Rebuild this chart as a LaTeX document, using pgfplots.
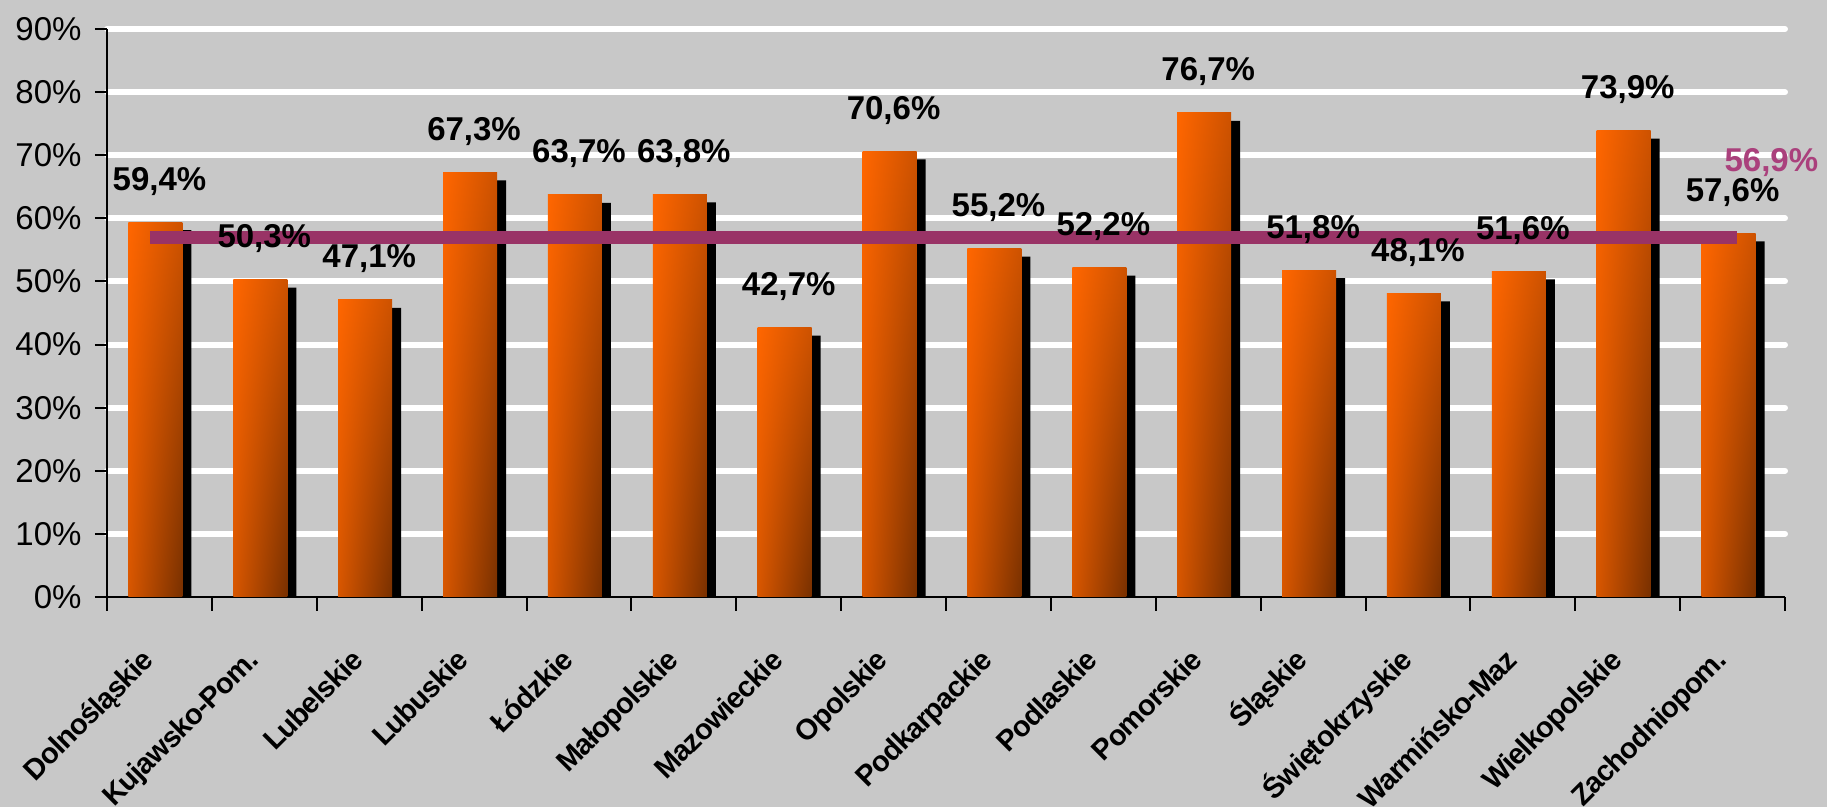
\documentclass[border=0pt]{standalone}
\usepackage{pgfplots}
\usepackage{pgfplotstable}
\pgfplotsset{compat=1.18}
\usepackage{fontspec}
\setmainfont{Liberation Sans}
\newfontfamily\labfont[LetterSpace=-3]{Liberation Sans}
\definecolor{bg}{RGB}{200,200,200}
\definecolor{plum}{RGB}{153,51,102}
\definecolor{plumtxt}{RGB}{170,64,124}
\pgfdeclarefunctionalshading{orbar}{\pgfpoint{-50bp}{-50bp}}{\pgfpoint{50bp}{50bp}}{}{
  25 add 50 div dup 0 lt {pop 0} if dup 1 gt {pop 1} if
  exch
  25 add 50 div dup 0 lt {pop 0} if dup 1 gt {pop 1} if
  2 copy mul 0.176 mul
  exch -0.372 mul add
  exch 0.157 mul add
  0.843 add
  dup 0.4 mul 0
}
\pgfplotstableread{
x y
0 59.4
1 50.3
2 47.1
3 67.3
4 63.7
5 63.8
6 42.7
7 70.6
8 55.2
9 52.2
10 76.7
11 51.8
12 48.1
13 51.6
14 73.9
15 57.6
}\data
\newcommand{\fs}{\fontsize{16.5}{19}\selectfont}
\begin{document}
\begin{tikzpicture}[font=\fs]
\fill[bg] (-53.5pt,-105pt) rectangle (860pt,298.5pt);
\begin{axis}[
  scale only axis, width=839pt, height=284pt,
  xmin=-0.5, xmax=15.5, ymin=0, ymax=90,
  axis x line*=bottom, axis y line*=left,
  axis line style={black, line width=1pt},
  /pgf/number format/assume math mode=true,
  ytick={10,20,...,90},
  extra y ticks={0},
  extra y tick style={grid=none},
  yticklabel={\pgfmathprintnumber{\tick}\%},
  yticklabel style={xshift=-3.2pt},
  ymajorgrids,
  grid style={white, line width=3pt, line cap=round},
  tick align=outside,
  major tick length=6pt,
  tick style={black, line width=1pt},
  xtick={0,...,15},
  xticklabels={Dolnośląskie, Kujawsko-Pom., Lubelskie, Lubuskie, Łódzkie, Małopolskie, Mazowieckie, Opolskie, Podkarpackie, Podlaskie, Pomorskie, Śląskie, Świętokrzyskie, Warmińsko-Maz, Wielkopolskie, Zachodniopom.},
  major x tick style={draw=none},
  minor xtick={-0.5,0.5,...,15.5},
  minor tick length=7pt,
  minor x tick style={black, line width=1pt},
  tick label style={font=\fs},
  xticklabel style={font=\labfont\bfseries\fontsize{14.5}{17}\selectfont, xshift=-2pt, yshift=-26.5pt, rotate=45, anchor=base east, inner sep=0pt},
  clip=false,
]
\addplot[ybar, bar width=27pt, bar shift=2.5pt, fill=black, draw=none]
  table[x=x, y expr=\thisrow{y}-1.27]{\data};
\pgfplotsinvokeforeach{0,...,15}{
\addplot[ybar, bar width=27pt, bar shift=-2pt, draw=none,
  shade, shading=orbar,
  restrict expr to domain={\coordindex}{#1:#1}]
  table[x=x, y=y]{\data};
}
\addplot[plum, line width=6.5pt, no markers] coordinates {(-0.09,56.9) (15.04,56.9)};
\addplot[ybar, bar width=27pt, bar shift=-2pt, draw=none, fill=none,
  point meta=y,
  nodes near coords={\pgfmathprintnumber[fixed,fixed zerofill,precision=1,use comma]{\pgfplotspointmeta}\%},
  every node near coord/.append style={font=\bfseries\fs, text=black, anchor=center, yshift=20.5pt}]
  table[x=x, y=y]{\data};
\node[font=\bfseries\fs, text=plumtxt] at (axis cs:15.37,68.9) {56,9\%};
\end{axis}
\pgfresetboundingbox
\useasboundingbox (-53.5pt,-105pt) rectangle (860pt,298.5pt);
\end{tikzpicture}
\end{document}
